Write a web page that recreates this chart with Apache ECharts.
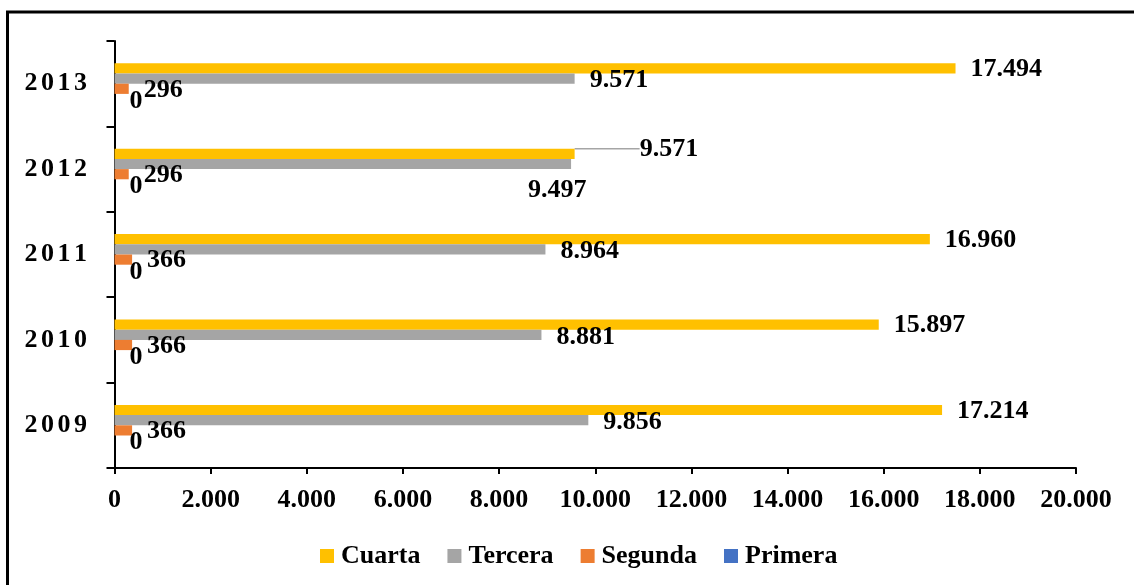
<!DOCTYPE html>
<html>
<head>
<meta charset="utf-8">
<script src="https://cdn.jsdelivr.net/npm/echarts@6/dist/echarts.min.js"></script>
<style>
html,body{margin:0;padding:0;background:#fff;}
#chart{width:1134px;height:585px;}
</style>
</head>
<body>
<div id="chart"></div>
<script>
const years = ['2009', '2010', '2011', '2012', '2013'];
const primera = [0, 0, 0, 0, 0];
const segunda = [366, 366, 366, 296, 296];
const tercera = [9856, 8881, 8964, 9497, 9571];
const cuarta = [17214, 15897, 16960, 9571, 17494];
const xTicks = [0, 2000, 4000, 6000, 8000, 10000, 12000, 14000, 16000, 18000, 20000];
const legendOrder = ['Cuarta', 'Tercera', 'Segunda', 'Primera'];

const FONT = '"Liberation Serif", "Times New Roman", serif';
const fmt = v => {
  const s = String(Math.round(v));
  return s.replace(/\B(?=(\d{3})+(?!\d))/g, '.');
};
const labelBase = {
  show: true,
  position: 'right',
  distance: 15,
  color: '#000',
  fontFamily: FONT,
  fontWeight: 'bold',
  fontSize: 26,
  formatter: p => fmt(p.value)
};

const chart = echarts.init(document.getElementById('chart'), null, {renderer: 'canvas'});
chart.setOption({
  animation: false,
  backgroundColor: '#fff',
  graphic: [{
    type: 'rect',
    shape: {x: 7.5, y: 12, width: 1300, height: 700},
    style: {fill: 'none', stroke: '#000', lineWidth: 3},
    silent: true, z: 100
  }],
  grid: {left: 114.5, right: 58, top: 41, bottom: 117},
  legend: {
    data: legendOrder,
    left: 320,
    top: 543,
    padding: 0,
    itemWidth: 14,
    itemHeight: 14,
    itemGap: 27,
    icon: 'rect',
    textStyle: {color: '#000', fontFamily: FONT, fontWeight: 'bold', fontSize: 26, padding: [0, 0, 0, 2]}
  },
  xAxis: {
    type: 'value',
    min: 0, max: 20000, interval: 2000,
    axisLine: {show: true, lineStyle: {color: '#000', width: 2}},
    axisTick: {show: true, length: 6, lineStyle: {color: '#000', width: 2}},
    splitLine: {show: false},
    axisLabel: {
      margin: 19,
      color: '#000', fontFamily: FONT, fontWeight: 'bold', fontSize: 26,
      formatter: v => fmt(v)
    }
  },
  yAxis: {
    type: 'category',
    data: years,
    axisLine: {show: true, lineStyle: {color: '#000', width: 2}},
    axisTick: {show: true, length: 8, lineStyle: {color: '#000', width: 2}},
    axisLabel: {
      margin: 24,
      formatter: v => v.split('').map(c => '{d|' + c + '}').join(''),
      rich: {d: {width: 16.5, align: 'left', color: '#000', fontFamily: FONT, fontWeight: 'bold', fontSize: 26}}
    }
  },
  series: [
    {name: 'Cuarta', type: 'bar', barWidth: 10.2, barGap: '0%', barCategoryGap: '52%',
     data: cuarta.map((v, i) => (i === 3 ? {value: v, labelLine: {show: true}} : v)),
     itemStyle: {color: '#FFC000'}, label: labelBase,
     labelLine: {show: false, lineStyle: {color: '#A5A5A5', width: 1.5}},
     labelLayout: p => (p.dataIndex === 3 ? {dx: 50, dy: -5} : {dy: 1})},
    {name: 'Tercera', type: 'bar', data: tercera, barWidth: 10.2, barGap: '0%',
     itemStyle: {color: '#A5A5A5'}, label: labelBase,
     labelLayout: p => (p.dataIndex === 3 ? {dx: -58, dy: 26} : {dy: 2})},
    {name: 'Segunda', type: 'bar', data: segunda, barWidth: 10.2, barGap: '0%',
     itemStyle: {color: '#ED7D31'}, label: labelBase,
     labelLayout: () => ({dy: 1})},
    {name: 'Primera', type: 'bar', data: primera, barWidth: 10.2, barGap: '0%',
     itemStyle: {color: '#4472C4'}, label: labelBase,
     labelLayout: () => ({dy: 2})}
  ]
});
</script>
</body>
</html>
